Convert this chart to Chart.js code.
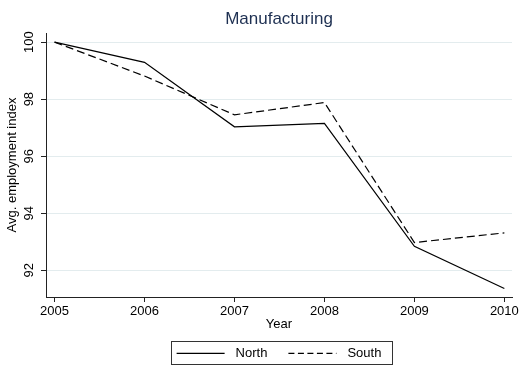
<!DOCTYPE html>
<html lang="en">
<head>
<meta charset="UTF-8">
<title>Manufacturing</title>
<script src="https://cdn.jsdelivr.net/npm/chart.js@4.4.0/dist/chart.umd.min.js"></script>
<style>
    html, body { margin: 0; padding: 0; background: #fff; }
    canvas { display: block; }
</style>
</head>
<body>
<canvas id="chart" width="521" height="369"></canvas>
<script>
    // Values
    const years = [2005, 2006, 2007, 2008, 2009, 2010];
    const north = [100, 99.29, 97.03, 97.15, 92.84, 91.36];
    const south = [100, 98.81, 97.45, 97.88, 92.97, 93.31];
    const yTicks = [92, 94, 96, 98, 100];
    const seriesNames = ['North', 'South'];

    const FONT = '"Liberation Sans", Arial, sans-serif';

    // Stata-style legend: line samples inside a thin box, centred under the plot
    const boxedLegend = {
        id: 'boxedLegend',
        afterDraw(chart) {
            const ctx = chart.ctx;
            const area = chart.chartArea;
            const cy = chart.height - 15.6;
            const lineLen = 48, gap = 11, spacing = 21;
            ctx.save();
            ctx.font = '13px ' + FONT;
            const items = chart.data.datasets.map(ds => ({
                label: ds.label,
                dash: ds.legendDash || [],
                w: ctx.measureText(ds.label).width
            }));
            const total = items.reduce((s, it) => s + lineLen + gap + it.w, 0) + spacing * (items.length - 1);
            let x = (area.left + area.right) / 2 - total / 2;

            ctx.strokeStyle = '#333';
            ctx.lineWidth = 1;
            ctx.strokeRect(Math.round(x - 6) + 0.5, Math.round(cy - 12) + 0.5, Math.round(total + 16), 23);

            items.forEach(it => {
                ctx.beginPath();
                ctx.setLineDash(it.dash);
                ctx.lineWidth = 1.2;
                ctx.strokeStyle = '#000';
                ctx.moveTo(x, cy);
                ctx.lineTo(x + lineLen, cy);
                ctx.stroke();
                ctx.setLineDash([]);
                ctx.fillStyle = '#000';
                ctx.textBaseline = 'middle';
                ctx.textAlign = 'left';
                ctx.fillText(it.label, x + lineLen + gap, cy);
                x += lineLen + gap + it.w + spacing;
            });
            ctx.restore();
        }
    };

    const ctx = document.getElementById('chart').getContext('2d');
    new Chart(ctx, {
        type: 'line',
        data: {
            datasets: [
                {
                    label: seriesNames[0],
                    data: years.map((y, i) => ({ x: y, y: north[i] })),
                    borderColor: '#000',
                    borderWidth: 1.2,
                    pointRadius: 0,
                    tension: 0,
                    fill: false,
                    legendDash: []
                },
                {
                    label: seriesNames[1],
                    data: years.map((y, i) => ({ x: y, y: south[i] })),
                    borderColor: '#000',
                    borderWidth: 1.2,
                    borderDash: [8, 4],
                    pointRadius: 0,
                    tension: 0,
                    fill: false,
                    legendDash: [6, 3.5]
                }
            ]
        },
        options: {
            responsive: false,
            animation: false,
            layout: { padding: { left: 0, right: 9, top: 0, bottom: 36.7 } },
            scales: {
                x: {
                    type: 'linear',
                    min: 2004.905,
                    max: 2010.085,
                    afterBuildTicks: scale => { scale.ticks = years.map(v => ({ value: v })); },
                    afterFit: scale => { scale.height = 35.3; },
                    border: { display: true, color: '#222', width: 1 },
                    grid: { drawOnChartArea: false, drawTicks: true, tickLength: 5, tickColor: '#222', tickWidth: 1 },
                    ticks: {
                        color: '#000',
                        font: { family: FONT, size: 13, lineHeight: 1.2 },
                        padding: 1.5,
                        maxRotation: 0,
                        autoSkip: false,
                        callback: v => String(v)
                    },
                    title: {
                        display: true,
                        text: 'Year',
                        color: '#000',
                        font: { family: FONT, size: 13, lineHeight: 1.2 },
                        padding: { top: 0, bottom: 0 }
                    }
                },
                y: {
                    type: 'linear',
                    min: 91.06,
                    max: 100.32,
                    afterBuildTicks: scale => { scale.ticks = yTicks.map(v => ({ value: v })); },
                    afterFit: scale => { scale.width = 46; },
                    border: { display: true, color: '#222', width: 1 },
                    grid: { color: '#e3ecee', lineWidth: 1, drawTicks: true, tickLength: 5, tickColor: '#222', tickWidth: 1 },
                    ticks: {
                        color: '#000',
                        font: { family: FONT, size: 13, lineHeight: 1.2 },
                        padding: 1,
                        minRotation: 90,
                        maxRotation: 90,
                        crossAlign: 'center',
                        autoSkip: false,
                        callback: v => String(v)
                    },
                    title: {
                        display: true,
                        text: 'Avg. employment index',
                        color: '#000',
                        font: { family: FONT, size: 13, lineHeight: 1.2 },
                        padding: { top: 5, bottom: 0 }
                    }
                }
            },
            plugins: {
                legend: { display: false },
                tooltip: { enabled: false },
                title: {
                    display: true,
                    fullSize: false,
                    text: 'Manufacturing',
                    color: '#1e3052',
                    font: { family: FONT, size: 17, weight: 'normal', lineHeight: 1.2 },
                    padding: { top: 8.8, bottom: 3.8 }
                }
            }
        },
        plugins: [boxedLegend]
    });
</script>
</body>
</html>
